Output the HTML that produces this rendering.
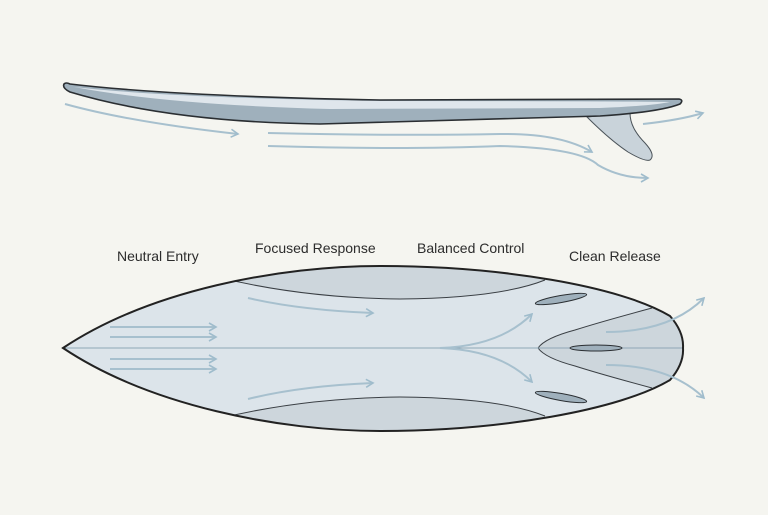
<!DOCTYPE html>
<html><head><style>
html,body{margin:0;padding:0;background:#f5f5f0;}
svg{display:block}
text{font-family:"Liberation Sans",sans-serif;font-size:14px;fill:#2c2c2c;}
</style></head><body>
<svg width="768" height="515" viewBox="0 0 768 515">
<defs>
<marker id="a" markerWidth="10" markerHeight="10" refX="8" refY="5" orient="auto" markerUnits="userSpaceOnUse">
<path d="M1,1 L8,5 L1,9" fill="none" stroke="#9fbccc" stroke-width="1.6"/>
</marker>
<clipPath id="c"><path d="M63,348 C150,290 280,266 380,266 C500,266 620,286 670,316 Q684,332 683,348 Q684,364 670,380 C620,410 500,431 380,431 C280,431 150,406 63,348 Z"/></clipPath>
</defs>
<rect width="768" height="515" fill="#f5f5f0"/>
<!-- side view -->
<path d="M587,117 Q610,140 628,152 Q645,162 650,160 Q656,155 645,143 Q630,128 630,113 Z" fill="#c9d3da" stroke="#4a5258" stroke-width="1"/>
<path d="M64,84 Q62,88 70,92 Q170,122 320,124 L600,116 Q660,112 680,104 Q684,100 679,99 L380,100 Q170,96 70,84 Q66,82 64,84 Z" fill="#9fb0bc" stroke="#2a2e32" stroke-width="1.6"/>
<path d="M74,87 Q170,105 330,109 L600,108 Q650,106 670,102 Q600,101 380,101 Q170,98 74,87 Z" fill="#dfe6ec"/>
<g fill="none" stroke="#a7c0ce" stroke-width="2" marker-end="url(#a)">
<path d="M65,104 Q130,122 238,134"/>
<path d="M268,133 Q400,136 500,134 Q560,133 592,152"/>
<path d="M268,146 Q400,150 500,146 Q580,148 598,165 Q620,178 648,178"/>
<path d="M643,124 Q680,120 703,113"/>
</g>
<!-- labels -->
<text x="117" y="261">Neutral Entry</text>
<text x="255" y="253">Focused Response</text>
<text x="417" y="253">Balanced Control</text>
<text x="569" y="261">Clean Release</text>
<!-- top view -->
<path d="M63,348 C150,290 280,266 380,266 C500,266 620,286 670,316 Q684,332 683,348 Q684,364 670,380 C620,410 500,431 380,431 C280,431 150,406 63,348 Z" fill="#dce4ea"/>
<g clip-path="url(#c)">
<g fill="#cdd6dc" stroke="none">
<path d="M213,276 Q300,298 400,299 Q500,298 545,280 L545,250 L213,250 Z"/>
<path d="M213,420 Q300,398 400,397 Q500,398 545,416 L545,450 L213,450 Z"/>
<path d="M652,308 Q600,322 575,330 Q545,338 538,348 Q545,358 575,366 Q600,374 652,388 L700,388 L700,308 Z"/>
</g>
<g fill="none" stroke="#3a3f44" stroke-width="1">
<path d="M213,276 Q300,298 400,299 Q500,298 545,280"/>
<path d="M213,420 Q300,398 400,397 Q500,398 545,416"/>
<path d="M652,308 Q600,322 575,330 Q545,338 538,348 Q545,358 575,366 Q600,374 652,388"/>
</g>
</g>
<line x1="63" y1="348" x2="683" y2="348" stroke="#8ea7b6" stroke-width="1"/>
<path d="M63,348 C150,290 280,266 380,266 C500,266 620,286 670,316 Q684,332 683,348 Q684,364 670,380 C620,410 500,431 380,431 C280,431 150,406 63,348 Z" fill="none" stroke="#222" stroke-width="2"/>
<g fill="#9fb0bc" stroke="#2a2e32" stroke-width="1">
<ellipse cx="561" cy="299" rx="26" ry="3.5" transform="rotate(-10 561 299)"/>
<ellipse cx="561" cy="397" rx="26" ry="3.5" transform="rotate(10 561 397)"/>
<ellipse cx="596" cy="348" rx="26" ry="3"/>
</g>
<g fill="none" stroke="#a7c0ce" stroke-width="2" marker-end="url(#a)">
<path d="M110,327 L216,327"/>
<path d="M110,337 L216,337"/>
<path d="M110,359 L216,359"/>
<path d="M110,369 L216,369"/>
<path d="M248,298 Q300,310 373,313"/>
<path d="M248,399 Q300,386 373,383"/>
<path d="M440,348 Q500,346 532,314"/>
<path d="M440,348 Q500,350 532,382"/>
<path d="M606,332 Q670,332 704,298"/>
<path d="M606,365 Q670,365 704,398"/>
</g>
</svg>
</body></html>
